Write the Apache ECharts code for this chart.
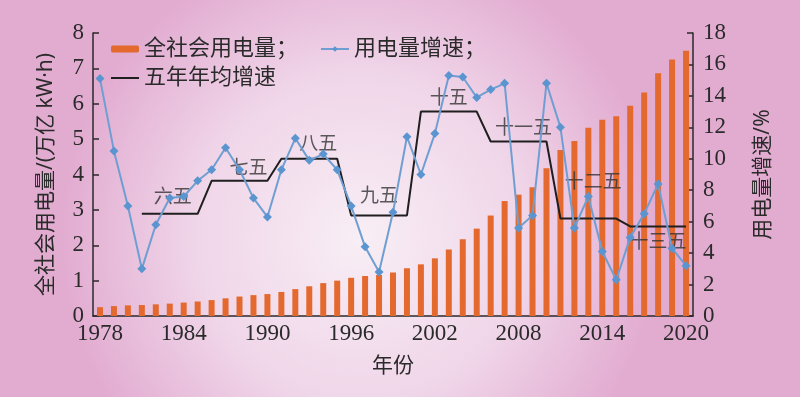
<!DOCTYPE html>
<html>
<head>
<meta charset="utf-8">
<script src="https://cdn.jsdelivr.net/npm/echarts@6/dist/echarts.min.js"></script>
<style>
  html, body { margin: 0; padding: 0; }
  #main { width: 800px; height: 397px; }
</style>
</head>
<body>
<div id="main"></div>
<script>
// 年份
var years = [];
for (var y = 1978; y <= 2020; y++) years.push(String(y));

// 全社会用电量 (万亿 kW·h)
var consumption = [
  0.25, 0.28, 0.30, 0.31, 0.33, 0.35, 0.38, 0.41, 0.45, 0.50,
  0.55, 0.59, 0.62, 0.68, 0.76, 0.84, 0.93, 1.00, 1.08, 1.13,
  1.16, 1.23, 1.35, 1.46, 1.63, 1.88, 2.17, 2.47, 2.84, 3.25,
  3.43, 3.64, 4.18, 4.69, 4.95, 5.32, 5.55, 5.65, 5.94, 6.32,
  6.86, 7.25, 7.50
];

// 用电量增速 (%)
var growth = [
  15.1, 10.5, 7.0, 3.0, 5.8, 7.5, 7.6, 8.6, 9.3, 10.7,
  9.3, 7.5, 6.3, 9.3, 11.3, 9.9, 10.3, 9.3, 7.0, 4.4,
  2.8, 6.6, 11.4, 9.0, 11.6, 15.3, 15.2, 13.9, 14.4, 14.8,
  5.6, 6.4, 14.8, 12.0, 5.6, 7.6, 4.1, 2.3, 5.0, 6.5,
  8.4, 4.3, 3.2
];

// 五年年均增速 (%)
var plans = ['六五', '七五', '八五', '九五', '十五', '十一五', '十二五', '十三五'];
var planStart = [1981, 1986, 1991, 1996, 2001, 2006, 2011, 2016];
var planAvg = [6.5, 8.6, 10.0, 6.4, 13.0, 11.1, 6.2, 5.7];

// 标注位置 (年份, 增速)
var planLabelYear = ['1983', '1989', '1994', '1998', '2003', '2008', '2013', '2018'];
var planLabelValue = [7.5, 9.4, 10.9, 7.6, 13.8, 11.9, 8.5, 4.7];
var planLabelShift = [3, -5, -5, 0, 0, 5, 5, 0];

var avgLine = years.map(function (yr) {
  var v = null;
  for (var i = 0; i < planStart.length; i++) {
    if (+yr >= planStart[i] && +yr < planStart[i] + 5) v = planAvg[i];
  }
  return v;
});

var labelData = plans.map(function (p, i) {
  return {
    name: p,
    value: [planLabelYear[i], planLabelValue[i]],
    label: { offset: [planLabelShift[i], 0] }
  };
});

var serif = 'Liberation Serif, Times New Roman, serif';
var cjk = 'Noto Sans, Noto Sans CJK SC, sans-serif';
var ink = '#2a2a2a';

var chart = echarts.init(document.getElementById('main'));
chart.setOption({
  animation: false,
  textStyle: { fontFamily: serif },
  backgroundColor: {
    type: 'radial', x: 0.45, y: 0.6, r: 0.75,
    colorStops: [
      { offset: 0, color: '#f8eef5' },
      { offset: 0.55, color: '#f0d6e9' },
      { offset: 1, color: '#e2acd1' }
    ]
  },
  grid: { left: 93, right: 107, top: 33, bottom: 81 },
  legend: [{
    left: 106, top: 33,
    itemWidth: 28, itemHeight: 7, itemGap: 22,
    data: ['全社会用电量', '用电量增速'],
    formatter: function (n) { return n + '；'; },
    textStyle: { fontFamily: cjk, fontSize: 22, color: ink }
  }, {
    left: 106, top: 62,
    itemWidth: 28, itemHeight: 2,
    data: [{ name: '五年年均增速', icon: 'rect' }],
    textStyle: { fontFamily: cjk, fontSize: 22, color: ink }
  }],
  xAxis: {
    type: 'category',
    data: years,
    name: '年份',
    nameLocation: 'middle',
    nameGap: 40,
    nameTextStyle: { fontFamily: cjk, fontSize: 21, color: ink },
    axisLine: { lineStyle: { color: ink, width: 1.5 } },
    axisTick: { inside: true, length: 5, interval: 0, lineStyle: { color: ink, width: 1.5 } },
    axisLabel: { interval: 5, fontFamily: serif, fontSize: 23, color: ink, margin: 6 },
    splitLine: { show: false }
  },
  yAxis: [{
    type: 'value',
    min: 0, max: 8, interval: 1,
    name: '全社会用电量/(万亿 kW·h)',
    nameLocation: 'middle',
    nameRotate: 90,
    nameGap: 36,
    nameTextStyle: { fontFamily: cjk, fontSize: 21, color: ink },
    axisLine: { show: true, lineStyle: { color: ink, width: 1.5 } },
    axisTick: { show: true, inside: true, length: 6, lineStyle: { color: ink, width: 1.5 } },
    axisLabel: { fontFamily: serif, fontSize: 23, color: ink, margin: 9 },
    splitLine: { show: false }
  }, {
    type: 'value',
    min: 0, max: 18, interval: 2,
    name: '用电量增速/%',
    nameLocation: 'middle',
    nameRotate: 90,
    nameGap: 60,
    nameTextStyle: { fontFamily: cjk, fontSize: 21, color: ink },
    axisLine: { show: true, lineStyle: { color: ink, width: 1.5 } },
    axisTick: { show: true, inside: true, length: 6, lineStyle: { color: ink, width: 1.5 } },
    axisLabel: { fontFamily: serif, fontSize: 23, color: ink, margin: 10 },
    splitLine: { show: false }
  }],
  series: [{
    name: '全社会用电量',
    type: 'bar',
    data: consumption,
    barWidth: 6,
    itemStyle: { color: '#e4692f' }
  }, {
    name: '五年年均增速',
    type: 'line',
    yAxisIndex: 1,
    data: avgLine,
    symbol: 'none',
    connectNulls: false,
    lineStyle: { color: '#1f1f1f', width: 2 },
    itemStyle: { color: '#1f1f1f' }
  }, {
    name: '用电量增速',
    type: 'line',
    yAxisIndex: 1,
    data: growth,
    symbol: 'diamond',
    symbolSize: 9,
    lineStyle: { color: '#6f9fd2', width: 2 },
    itemStyle: { color: '#5b95d0' }
  }, {
    name: 'plans',
    type: 'scatter',
    yAxisIndex: 1,
    data: labelData,
    symbolSize: 0,
    silent: true,
    label: {
      show: true,
      position: 'inside',
      formatter: '{b}',
      fontFamily: cjk,
      fontSize: 19,
      color: '#333'
    }
  }]
});
</script>
</body>
</html>
